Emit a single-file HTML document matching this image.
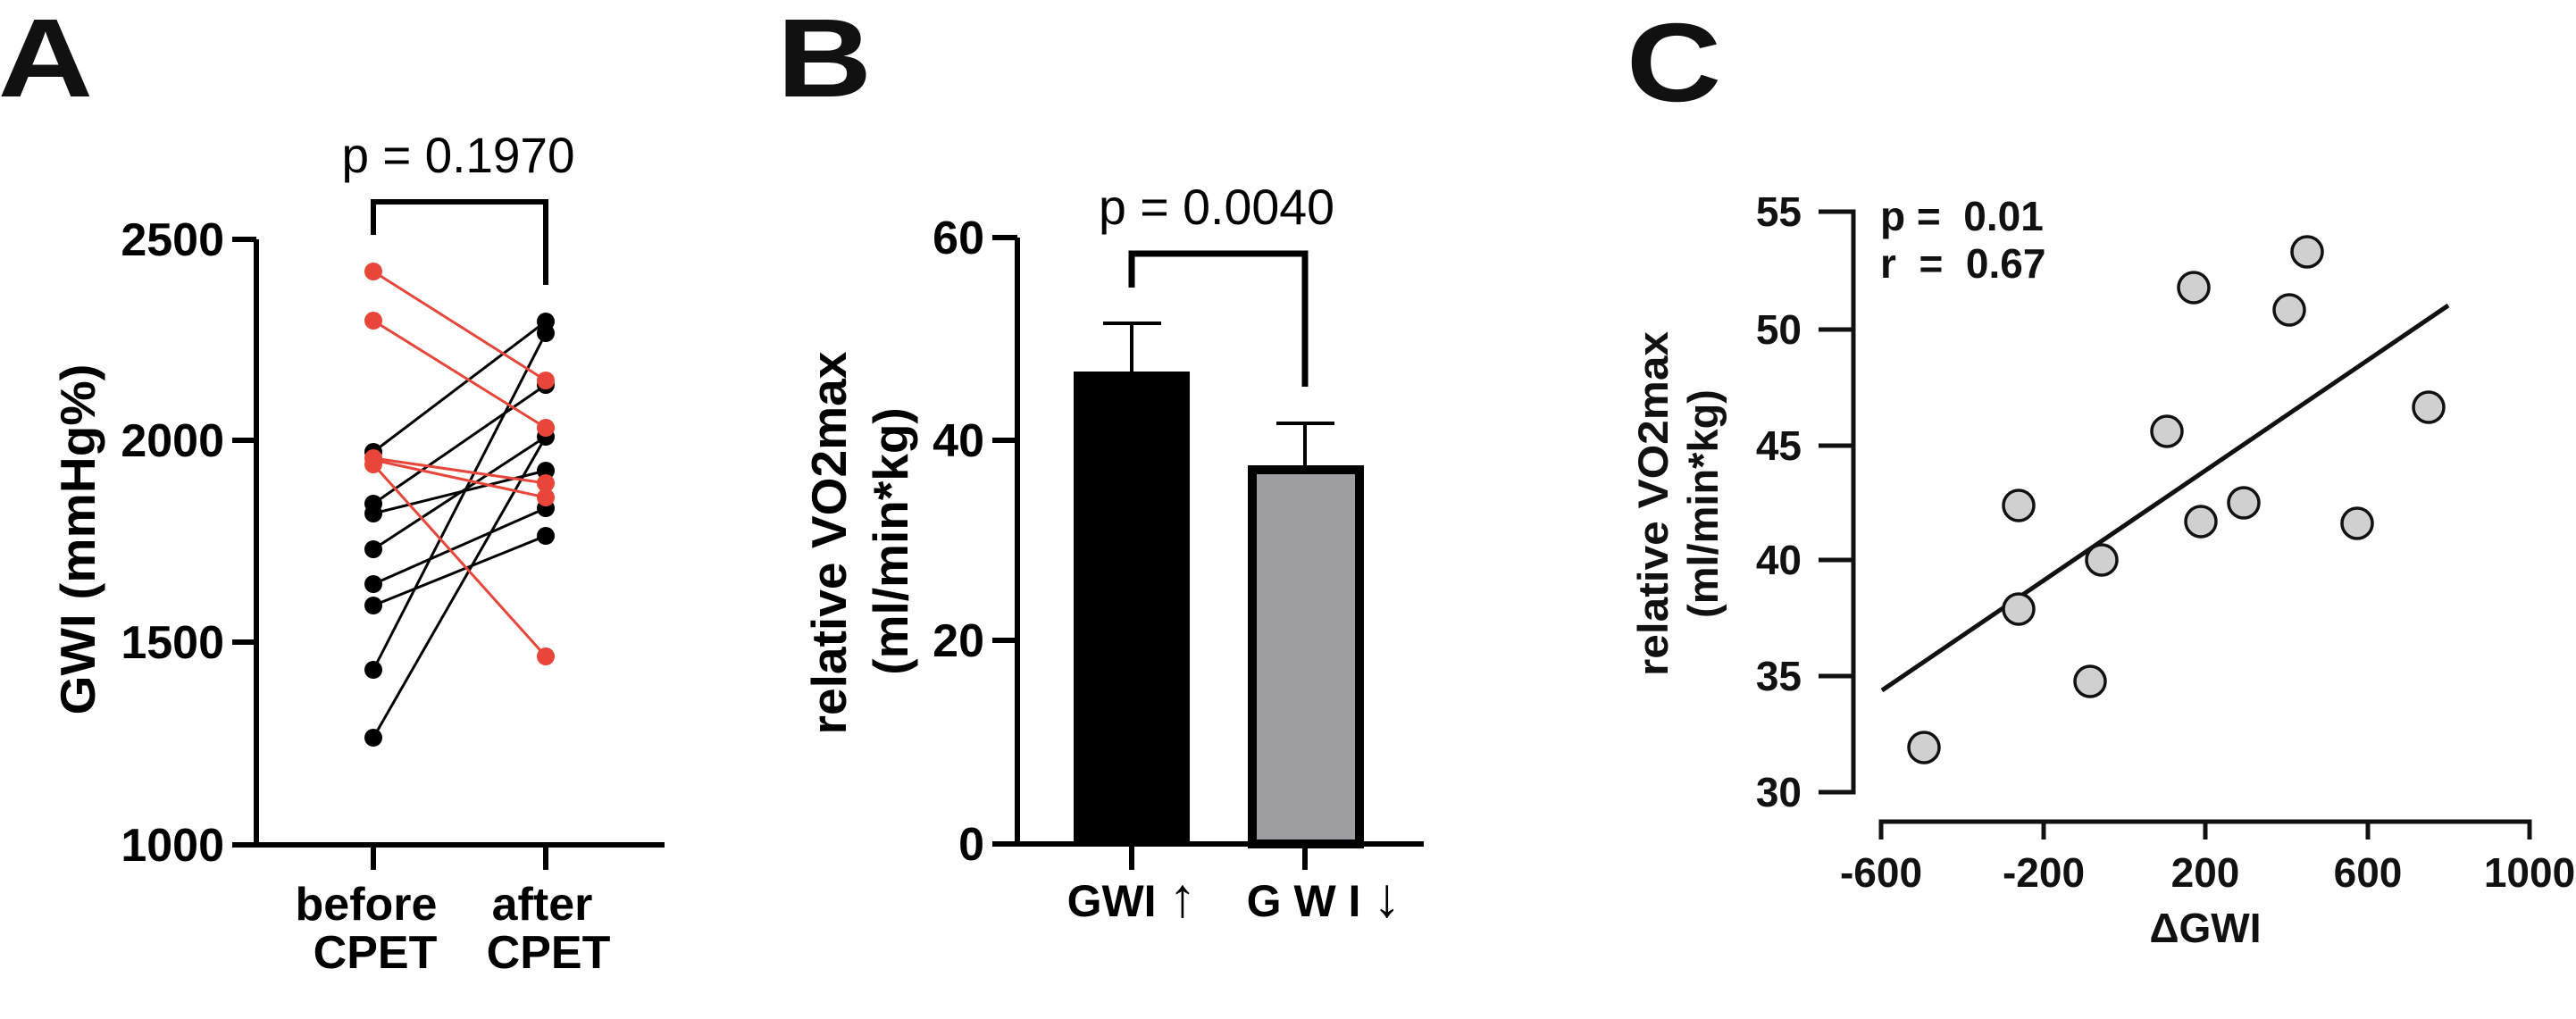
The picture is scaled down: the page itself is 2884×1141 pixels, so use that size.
<!DOCTYPE html>
<html><head><meta charset="utf-8"><style>
html,body{margin:0;padding:0;background:#fff;}
svg{display:block;font-family:"Liberation Sans",Arial,sans-serif;}
</style></head><body>
<svg width="2884" height="1141" viewBox="0 0 2884 1141" xmlns="http://www.w3.org/2000/svg">
<rect width="2884" height="1141" fill="#fff"/>
<!-- Panel A -->
<text x="-2" y="108" font-size="125" font-weight="bold" fill="#111" transform="scale(1.18,1)">A</text>
<text x="513" y="193" font-size="56" text-anchor="middle" textLength="261" lengthAdjust="spacingAndGlyphs">p = 0.1970</text>
<path d="M418 263 V226 H611 V319" fill="none" stroke="#000" stroke-width="6"/>
<g stroke="#000" stroke-width="6" fill="none">
<path d="M287 268 V946 H744"/>
<path d="M260 268 H287 M260 493 H287 M260 719 H287 M260 946 H287"/>
<path d="M418 946 V974 M611 946 V974"/>
</g>
<g font-size="52" font-weight="bold" text-anchor="end">
<text x="251" y="286">2500</text><text x="251" y="511">2000</text><text x="251" y="737">1500</text><text x="251" y="964">1000</text>
</g>
<text transform="translate(106,604) rotate(-90)" font-size="55" font-weight="bold" text-anchor="middle" textLength="393" lengthAdjust="spacingAndGlyphs">GWI (mmHg%)</text>
<g font-size="52" font-weight="bold" text-anchor="middle">
<text x="410" y="1030">before</text><text x="420" y="1084">CPET</text>
<text x="607" y="1030">after</text><text x="614" y="1084">CPET</text>
</g>
<g stroke="#000" stroke-width="3">
<line x1="418" y1="506" x2="611" y2="360"/><line x1="418" y1="564" x2="611" y2="431"/>
<line x1="418" y1="575" x2="611" y2="527"/><line x1="418" y1="615" x2="611" y2="489"/>
<line x1="418" y1="654" x2="611" y2="569"/><line x1="418" y1="678" x2="611" y2="600"/>
<line x1="418" y1="750" x2="611" y2="373"/><line x1="418" y1="826" x2="611" y2="489"/>
</g>
<g stroke="#e8463a" stroke-width="3">
<line x1="418" y1="304" x2="611" y2="426"/><line x1="418" y1="359" x2="611" y2="479"/>
<line x1="418" y1="513" x2="611" y2="541"/><line x1="418" y1="515" x2="611" y2="557"/>
<line x1="418" y1="520" x2="611" y2="735"/>
</g>
<g fill="#000">
<circle cx="418" cy="506" r="10"/><circle cx="418" cy="564" r="10"/><circle cx="418" cy="575" r="10"/><circle cx="418" cy="615" r="10"/>
<circle cx="418" cy="654" r="10"/><circle cx="418" cy="678" r="10"/><circle cx="418" cy="750" r="10"/><circle cx="418" cy="826" r="10"/>
<circle cx="611" cy="360" r="10"/><circle cx="611" cy="373" r="10"/><circle cx="611" cy="431" r="10"/><circle cx="611" cy="489" r="10"/>
<circle cx="611" cy="527" r="10"/><circle cx="611" cy="569" r="10"/><circle cx="611" cy="600" r="10"/>
</g>
<g fill="#e8463a">
<circle cx="418" cy="304" r="10"/><circle cx="418" cy="359" r="10"/><circle cx="418" cy="513" r="10"/><circle cx="418" cy="520" r="10"/>
<circle cx="611" cy="426" r="10"/><circle cx="611" cy="479" r="10"/><circle cx="611" cy="541" r="10"/><circle cx="611" cy="557" r="10"/><circle cx="611" cy="735" r="10"/>
</g>
<!-- Panel B -->
<text x="737" y="108" font-size="125" font-weight="bold" fill="#111" transform="scale(1.18,1)">B</text>
<text x="1362" y="251" font-size="56" text-anchor="middle" textLength="264" lengthAdjust="spacingAndGlyphs">p = 0.0040</text>
<path d="M1267 322 V284 H1461 V433" fill="none" stroke="#000" stroke-width="7"/>
<rect x="1202" y="416" width="130" height="529" fill="#000"/>
<rect x="1402" y="526" width="120" height="419" fill="#9e9da2" stroke="#000" stroke-width="10"/>
<g stroke="#000" stroke-width="4">
<path d="M1267 416 V362 M1235 362 H1300"/>
<path d="M1461 521 V474 M1429 474 H1494"/>
</g>
<g stroke="#000" stroke-width="6" fill="none">
<path d="M1139 266 V945 H1594"/>
<path d="M1111 266 H1139 M1111 493 H1139 M1111 717 H1139 M1111 945 H1139"/>
<path d="M1267 945 V974 M1461 945 V974"/>
</g>
<g font-size="52" font-weight="bold" text-anchor="end">
<text x="1102" y="284">60</text><text x="1102" y="511">40</text><text x="1102" y="735">20</text><text x="1102" y="963">0</text>
</g>
<text transform="translate(947,608) rotate(-90)" font-size="55" font-weight="bold" text-anchor="middle" textLength="429" lengthAdjust="spacingAndGlyphs">relative VO2max</text>
<text transform="translate(1016,606) rotate(-90)" font-size="55" font-weight="bold" text-anchor="middle">(ml/min*kg)</text>
<g font-size="50" font-weight="bold" text-anchor="middle">
<text x="1267" y="1026">GWI <tspan font-size="62">↑</tspan></text>
<text x="1482" y="1026">G W I <tspan font-size="62">↓</tspan></text>
</g>
<!-- Panel C -->
<text x="1543" y="113" font-size="125" font-weight="bold" fill="#111" transform="scale(1.18,1)">C</text>
<g stroke="#111" stroke-width="5" fill="none">
<path d="M2036 237 H2075 V887 H2036"/>
<path d="M2036 369 H2075 M2036 499 H2075 M2036 627 H2075 M2036 757 H2075"/>
<path d="M2106 940 V920 H2832 V940"/>
<path d="M2288 920 V940 M2469 920 V940 M2651 920 V940"/>
</g>
<g font-size="46" font-weight="bold" text-anchor="end" fill="#111">
<text x="2017" y="253">55</text><text x="2017" y="385">50</text><text x="2017" y="515">45</text>
<text x="2017" y="643">40</text><text x="2017" y="773">35</text><text x="2017" y="903">30</text>
</g>
<g font-size="46" font-weight="bold" text-anchor="middle" fill="#111">
<text x="2106" y="993">-600</text><text x="2288" y="993">-200</text><text x="2469" y="993">200</text>
<text x="2651" y="993">600</text><text x="2832" y="993">1000</text>
<text x="2469" y="1055">ΔGWI</text>
</g>
<text x="2105" y="258" font-size="46" font-weight="bold" fill="#111" xml:space="preserve">p =  0.01</text>
<text x="2105" y="311" font-size="46" font-weight="bold" fill="#111" xml:space="preserve">r  =  0.67</text>
<text transform="translate(1867,564) rotate(-90)" font-size="47" font-weight="bold" text-anchor="middle" fill="#111" textLength="386" lengthAdjust="spacingAndGlyphs">relative VO2max</text>
<text transform="translate(1923,564) rotate(-90)" font-size="47" font-weight="bold" text-anchor="middle" fill="#111">(ml/min*kg)</text>
<line x1="2107" y1="773" x2="2741" y2="342" stroke="#111" stroke-width="5"/>
<g fill="#d0d0d0" stroke="#111" stroke-width="3.5">
<circle cx="2154" cy="837" r="17"/><circle cx="2260" cy="566" r="17"/><circle cx="2260" cy="682" r="17"/>
<circle cx="2340" cy="763" r="17"/><circle cx="2353" cy="627" r="17"/><circle cx="2426" cy="483" r="17"/>
<circle cx="2456" cy="322" r="17"/><circle cx="2464" cy="584" r="17"/><circle cx="2512" cy="563" r="17"/>
<circle cx="2563" cy="347" r="17"/><circle cx="2583" cy="282" r="17"/><circle cx="2639" cy="586" r="17"/>
<circle cx="2719" cy="456" r="17"/>
</g>
</svg>
</body></html>
